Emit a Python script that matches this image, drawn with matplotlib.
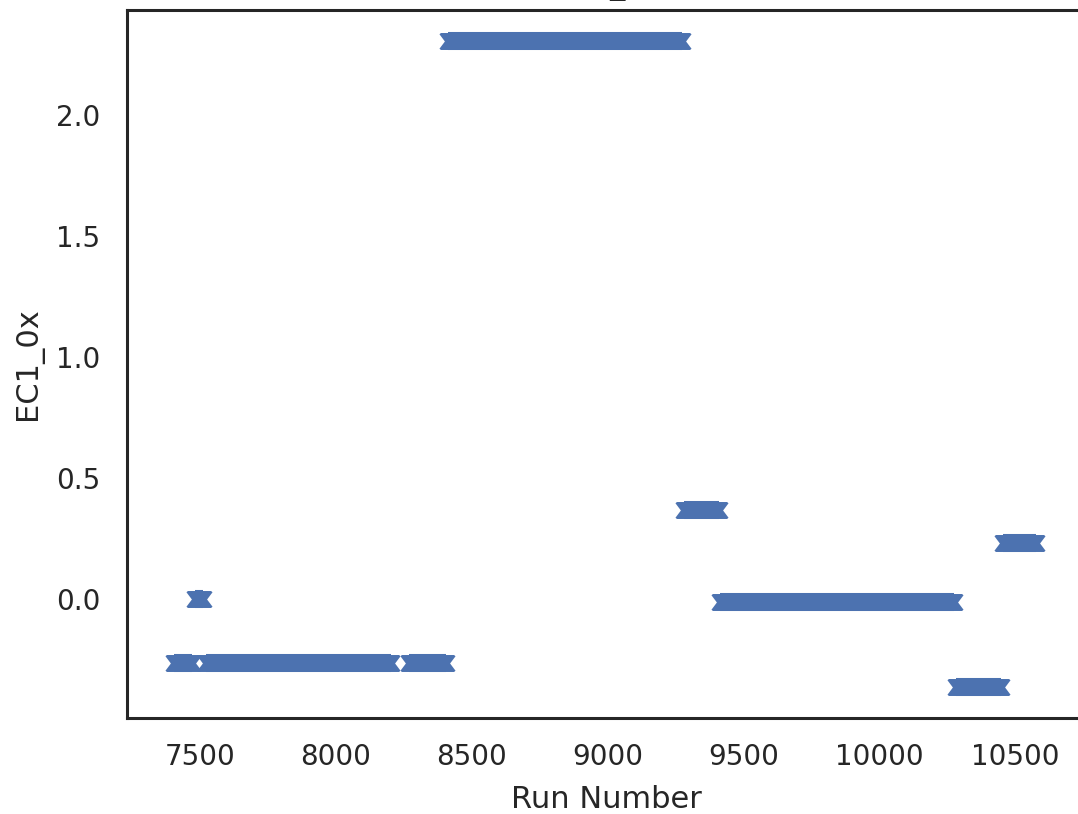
import matplotlib
matplotlib.use('agg')
import matplotlib.pyplot as plt
from matplotlib.path import Path
import seaborn as sns

sns.set_style('white')

# runs grouped into constant-value stretches (first run, last run, value)
seg_start = [7404, 7482, 7522, 8269, 8413, 9281, 9414, 10283, 10455]
seg_end = [7471, 7511, 8203, 8405, 9274, 9410, 10275, 10448, 10577]
seg_value = [-0.264, 0.0, -0.264, -0.264, 2.306, 0.369, -0.012, -0.364, 0.232]

xticks = [7500, 8000, 8500, 9000, 9500, 10000, 10500]
yticks = [0.0, 0.5, 1.0, 1.5, 2.0]

blue = '#4C72B0'
dark = '#262626'

# notched end of a run of overlapping "X" markers
cap_pts = [(0.2, -0.47), (-0.42, -0.47), (-0.5, -0.4), (-0.2, 0),
           (-0.5, 0.4), (-0.42, 0.47), (0.2, 0.47), (0.2, -0.47)]
left_cap = Path(cap_pts, closed=True)
right_cap = Path([(-x, y) for x, y in cap_pts], closed=True)

fig = plt.figure(figsize=(10.78, 8.14), dpi=100)
ax = fig.add_axes([127 / 1078, 96 / 814, 958 / 1078, 708 / 814])

ms = 13
for x0, x1, v in zip(seg_start, seg_end, seg_value):
    ax.plot([x0, x1], [v, v], color=blue, linewidth=ms,
            solid_capstyle='butt', zorder=3)
    ax.plot([x0], [v], linestyle='none', marker=left_cap, markersize=ms,
            color=blue, markeredgewidth=0, zorder=3)
    ax.plot([x1], [v], linestyle='none', marker=right_cap, markersize=ms,
            color=blue, markeredgewidth=0, zorder=3)

ax.set_xlim(7231, 10757)
ax.set_ylim(-0.493, 2.435)
ax.set_xticks(xticks)
ax.set_yticks(yticks)
ax.set_xticklabels([str(t) for t in xticks])
ax.set_yticklabels(['%.1f' % t for t in yticks])
ax.tick_params(axis='both', length=0, labelsize=20, labelcolor=dark)
ax.tick_params(axis='y', pad=19)
ax.tick_params(axis='x', pad=18)

for side, sp in ax.spines.items():
    sp.set_color(dark)
    sp.set_linewidth(2.2)

ax.set_xlabel('Run Number', fontsize=22, color=dark)
ax.set_ylabel('EC1_0x', fontsize=22, color=dark)
ax.xaxis.set_label_coords(0.5, -0.094)
ax.yaxis.set_label_coords(-0.088, 0.5)
ax.set_title('EC1_0x', fontsize=22, color=dark, pad=11.5)

fig.savefig('out.png', dpi=100)
